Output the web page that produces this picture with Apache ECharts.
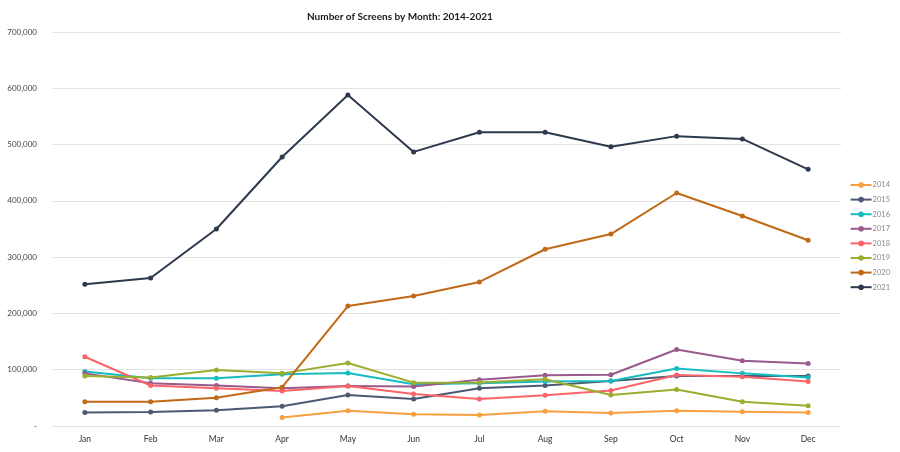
<!DOCTYPE html>
<html>
<head>
<meta charset="utf-8">
<script src="https://cdn.jsdelivr.net/npm/echarts@6/dist/echarts.min.js"></script>
<style>
  html, body { margin: 0; padding: 0; background: #fff; }
  #main { width: 900px; height: 452px; }
</style>
</head>
<body>
<div id="main"></div>
<script>
var months = ['Jan', 'Feb', 'Mar', 'Apr', 'May', 'Jun', 'Jul', 'Aug', 'Sep', 'Oct', 'Nov', 'Dec'];
var yTicks = [0, 100000, 200000, 300000, 400000, 500000, 600000, 700000];

var y2014 = [null, null, null, 15000, 27000, 21000, 19500, 26000, 23000, 27000, 25500, 24000];
var y2015 = [24000, 25000, 28000, 35000, 55000, 48000, 67000, 72000, 80000, 89000, 89000, 89000];
var y2016 = [97000, 85000, 85000, 92000, 94000, 74000, 76000, 79000, 80000, 102000, 93500, 86000];
var y2017 = [93500, 76000, 72000, 67000, 71000, 70000, 82000, 90000, 91000, 136000, 116000, 111000];
var y2018 = [123000, 72000, 67000, 62000, 71000, 57000, 48000, 54500, 63000, 90500, 87500, 79000];
var y2019 = [89000, 86000, 99500, 93500, 112000, 77000, 77500, 83000, 55000, 65000, 43000, 36000];
var y2020 = [43000, 43000, 50000, 69000, 213000, 231000, 256000, 314000, 341000, 414000, 373000, 330000];
var y2021 = [252000, 263000, 350000, 478000, 588000, 487000, 522000, 522000, 496000, 515000, 510000, 456000];

var seriesNames = ['2014', '2015', '2016', '2017', '2018', '2019', '2020', '2021'];
var seriesData = [y2014, y2015, y2016, y2017, y2018, y2019, y2020, y2021];
var colors = ['#f9a03f', '#4b5a72', '#17bcc0', '#9a5a8c', '#fb6468', '#9aae2f', '#c06a17', '#2d3a4d'];

var chart = echarts.init(document.getElementById('main'));
chart.setOption({
    animation: false,
    color: colors,
    textStyle: { fontFamily: 'Lato' },
    title: {
        text: 'Number of Screens by Month: 2014-2021',
        left: 302,
        top: 7,
        textStyle: { fontSize: 10, fontWeight: 'bold', color: '#1a1a1a', fontFamily: 'Lato' }
    },
    grid: { left: 52, right: 59, top: 32, bottom: 26 },
    legend: {
        orient: 'vertical',
        right: 5,
        top: 176,
        itemWidth: 21,
        itemHeight: 7,
        itemGap: 6.6,
        data: seriesNames,
        textStyle: { fontSize: 7.5, color: '#888', padding: [0, 0, 0, -4] }
    },
    xAxis: {
        type: 'category',
        data: months,
        boundaryGap: true,
        axisLine: { show: false },
        axisTick: { show: false },
        axisLabel: { fontSize: 8.5, color: '#333', margin: 9 }
    },
    yAxis: {
        type: 'value',
        min: yTicks[0],
        max: yTicks[yTicks.length - 1],
        interval: 100000,
        axisLine: { show: false },
        axisTick: { show: false },
        splitLine: { lineStyle: { color: '#e3e3e3', width: 1 } },
        axisLabel: {
            fontSize: 8,
            color: '#444',
            margin: 15,
            formatter: function (v) { return v === 0 ? '-' : v.toLocaleString('en-US'); }
        }
    },
    series: seriesNames.map(function (name, i) {
        return {
            name: name,
            type: 'line',
            data: seriesData[i],
            symbol: 'circle',
            symbolSize: 5,
            lineStyle: { width: 2 },
            connectNulls: false
        };
    })
});
</script>
</body>
</html>
